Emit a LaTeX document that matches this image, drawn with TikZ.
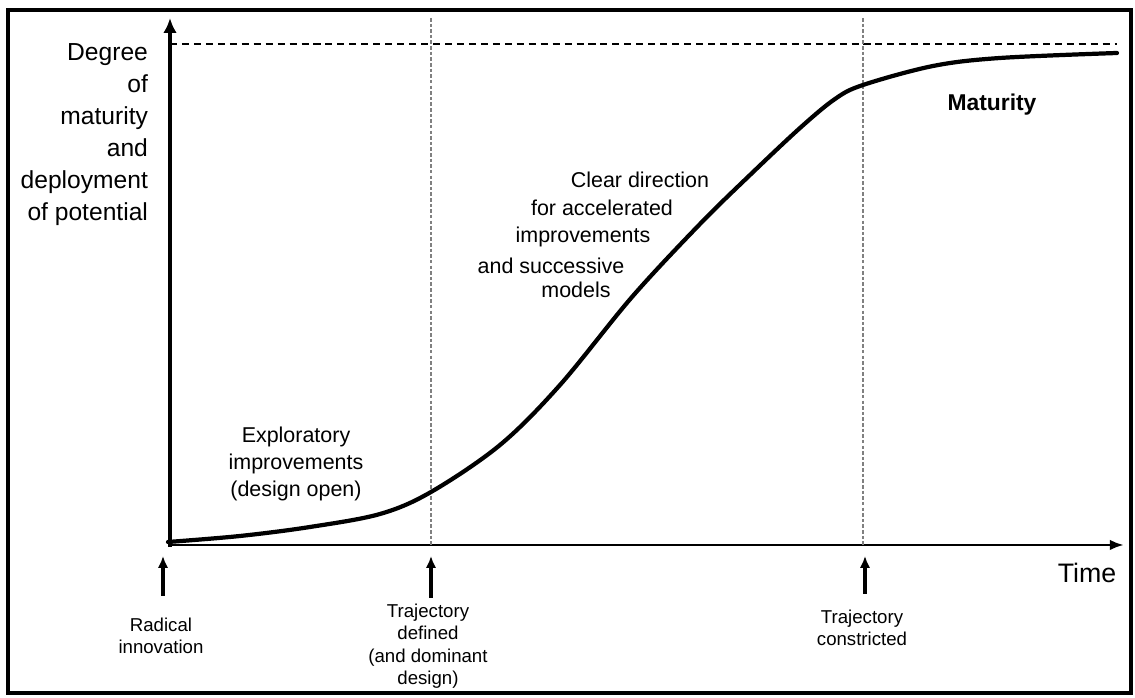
\documentclass[tikz,border=0pt]{standalone}
\usepackage{fontspec}
\setmainfont{Liberation Sans}
\usetikzlibrary{arrows.meta}
\begin{document}
\begin{tikzpicture}[x=0.01cm, y=-0.01cm, line width=0.6pt,
  yaxis/.style={line width=1.1pt, -{Latex[length=4.2pt,width=3.8pt]}},
  xaxis/.style={line width=0.8pt, -{Latex[length=4pt,width=3pt]}},
  guide/.style={gray, line width=0.35pt, dash pattern=on 1pt off 0.6pt},
  ceiling/.style={line width=0.4pt, dash pattern=on 2pt off 1.4pt},
  marker/.style={line width=0.9pt, -{Latex[length=3.4pt,width=3pt]}},
  note/.style={font=\fontsize{5.3}{6.4}\selectfont, align=center, inner sep=0pt},
  phase/.style={font=\fontsize{6.1}{7.6}\selectfont, align=center, inner sep=0pt},
  curve/.style={line width=1.2pt, line join=round, line cap=round}]
  \useasboundingbox (0,0) rectangle (1135,698);
  \draw[line width=0.9pt] (8,10) rectangle (1131,693);
  % axes
  \coordinate (O) at (170,547);
  \coordinate (ytip) at (170,18);
  \coordinate (xtip) at (1124,545);
  \draw[yaxis] (O) -- (ytip);
  \draw[xaxis] (169,545) -- (xtip);
  \draw[ceiling] (170,44) -- (1117,44);
  \draw[guide] (431,18) -- (431,545);
  \draw[guide] (863,18) -- (863,545);
  % s-curve
  \draw[curve] plot[smooth, tension=0.55] coordinates {
    (168,542) (240,536) (310,527) (380,514) (431,492) (500,445)
    (560,385) (632,297) (700,224) (750,175) (800,128) (835,99)
    (863,85) (933,66) (1000,58) (1117,53)};
  % axis labels
  \node[font=\fontsize{7}{9.1}\selectfont, align=right, inner sep=0pt, anchor=east]
    (ylabel) at (149,135) {Degree\\of\\maturity\\and\\deployment\\of potential};
  \node[font=\fontsize{7.6}{9}\selectfont, inner sep=0pt] (time) at (1087,573) {Time};
  \node[font=\bfseries\fontsize{6.5}{8}\selectfont, inner sep=0pt] (maturity) at (992,105) {Maturity};
  % phase labels
  \node[phase] (explore) at (296,464) {Exploratory\\improvements\\(design open)};
  \node[phase] (cleardir) at (640,180) {Clear direction};
  \node[phase] (foracc) at (602,208) {for accelerated};
  \node[phase] (improv) at (583,237) {improvements};
  \node[phase] (andsucc) at (551,266) {and successive};
  \node[phase] (models) at (576,290) {models};
  % events on the time axis
  \node[note] (radical) at (161,636) {Radical\\innovation};
  \node[note] (defined) at (428,646) {Trajectory\\defined\\(and dominant\\design)};
  \node[note] (constricted) at (862,628) {Trajectory\\constricted};
  \coordinate (radicaltail) at (163,596);
  \coordinate (definedtail) at (431,598);
  \coordinate (constrictedtail) at (865,594);
  \draw[marker] (radicaltail) -- (163,556);
  \draw[marker] (definedtail) -- (431,556);
  \draw[marker] (constrictedtail) -- (865,556);
\end{tikzpicture}
\end{document}
